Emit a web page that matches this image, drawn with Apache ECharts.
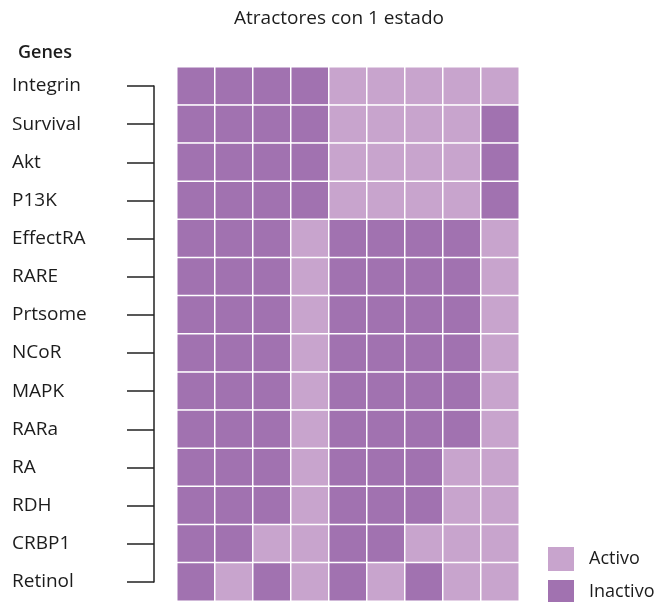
<!DOCTYPE html>
<html>
<head>
<meta charset="utf-8">
<script src="https://cdn.jsdelivr.net/npm/echarts@6/dist/echarts.min.js"></script>
<style>
html,body{margin:0;padding:0;background:#fff;}
#chart{width:662px;height:602px;}
</style>
</head>
<body>
<div id="chart"></div>
<script>
// Genes (rows, top to bottom)
const genes = ['Integrin','Survival','Akt','P13K','EffectRA','RARE','Prtsome','NCoR','MAPK','RARa','RA','RDH','CRBP1','Retinol'];
// Attractors (columns)
const attractors = ['1','2','3','4','5','6','7','8','9'];
// States per gene: 1 = Activo, 0 = Inactivo
const Integrin = [0,0,0,0,1,1,1,1,1];
const Survival = [0,0,0,0,1,1,1,1,0];
const Akt      = [0,0,0,0,1,1,1,1,0];
const P13K     = [0,0,0,0,1,1,1,1,0];
const EffectRA = [0,0,0,1,0,0,0,0,1];
const RARE     = [0,0,0,1,0,0,0,0,1];
const Prtsome  = [0,0,0,1,0,0,0,0,1];
const NCoR     = [0,0,0,1,0,0,0,0,1];
const MAPK     = [0,0,0,1,0,0,0,0,1];
const RARa     = [0,0,0,1,0,0,0,0,1];
const RA       = [0,0,0,1,0,0,0,1,1];
const RDH      = [0,0,0,1,0,0,0,1,1];
const CRBP1    = [0,0,1,1,0,0,1,1,1];
const Retinol  = [0,1,0,1,0,1,0,1,1];
const stateLabels = ['Inactivo','Activo'];

const rows = [Integrin,Survival,Akt,P13K,EffectRA,RARE,Prtsome,NCoR,MAPK,RARa,RA,RDH,CRBP1,Retinol];
const heatData = [];
rows.forEach((r, gi) => r.forEach((v, ci) => heatData.push([ci, gi, v])));

const DARK = '#a172b0';
const LIGHT = '#c8a4cd';
const FONT = 'Open Sans';
const INK = '#1c1c1c';

const chart = echarts.init(document.getElementById('chart'), null, {renderer:'canvas'});
chart.setOption({
  animation: false,
  textStyle: {fontFamily: FONT},
  title: [
    {text: 'Atractores con 1 estado', left: 334, textAlign: 'center', top: 4,
     textStyle: {fontFamily: FONT, fontSize: 19, fontWeight: 'normal', color: INK}},
    {text: 'Genes', left: 13, top: 39,
     textStyle: {fontFamily: FONT, fontSize: 18, fontWeight: 600, color: INK}}
  ],
  grid: [
    {left: 177, top: 67, width: 342, height: 534},
    {left: 154, top: 86, width: 10, height: 496}
  ],
  xAxis: [
    {type: 'category', data: attractors, gridIndex: 0, show: false},
    {type: 'value', gridIndex: 1, show: false}
  ],
  yAxis: [
    {type: 'category', data: genes, gridIndex: 0, inverse: true, show: false},
    {type: 'category', data: genes, gridIndex: 1, inverse: true, boundaryGap: false,
     axisLine: {show: true, lineStyle: {color: '#222', width: 1.5}},
     axisTick: {show: true, length: 27, lineStyle: {color: '#222', width: 1.5}},
     splitLine: {show: false},
     axisLabel: {show: true, align: 'left', margin: 142, fontFamily: FONT, fontSize: 19, color: INK}}
  ],
  visualMap: {
    type: 'piecewise',
    orient: 'vertical',
    align: 'left',
    padding: 0,
    left: 548, top: 547,
    itemWidth: 26, itemHeight: 24, itemGap: 9, textGap: 15,
    itemSymbol: 'rect',
    pieces: [
      {value: 1, label: stateLabels[1], color: LIGHT},
      {value: 0, label: stateLabels[0], color: DARK}
    ],
    textStyle: {fontFamily: FONT, fontSize: 18, color: INK},
    seriesIndex: 0
  },
  series: [{
    type: 'heatmap',
    xAxisIndex: 0, yAxisIndex: 0,
    data: heatData,
    itemStyle: {borderColor: '#fff', borderWidth: 1.5},
    emphasis: {disabled: true}
  }]
});
</script>
</body>
</html>
